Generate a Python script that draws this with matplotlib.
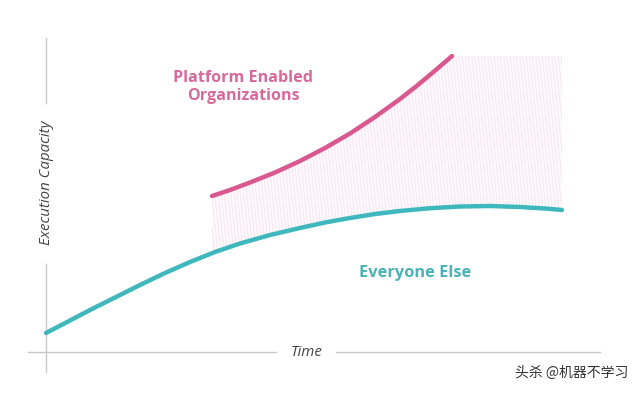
import matplotlib

matplotlib.use("Agg")
import matplotlib.pyplot as plt
import numpy as np
from matplotlib.collections import LineCollection
from matplotlib.patches import Polygon

# Curves (pixel space, y grows downwards)
everyone_x = [46, 70, 90, 115, 140, 165, 190, 215, 240, 270, 300, 325, 350,
              375, 400, 430, 460, 490, 520, 545, 562]
everyone_y = [333, 320.5, 310, 297.5, 285, 273, 262, 252, 243.5, 235, 228,
              222.5, 218, 214, 211, 208.2, 206.5, 206, 207, 208.5, 210]

platform_x = [212, 230, 250, 275, 300, 325, 350, 375, 400, 416, 434, 452]
platform_y = [196, 190, 182.5, 172.5, 161, 148, 133.5, 117, 99, 86.5, 71.5, 56]

# Shaded gap between the two groups (flat top after the pink curve ends)
gap_right = 562
gap_top = 56

TEAL = "#3fb8bd"
PINK = "#d9588f"
PINK_TEXT = "#d66a9c"
TEAL_TEXT = "#49b3b5"
HATCH = "#f7e4f0"
AXIS = "#c9c9c9"
INK = "#444444"

fig = plt.figure(figsize=(6.4, 3.94), dpi=100)
ax = fig.add_axes([0, 0, 1, 1])
ax.set_xlim(0, 640)
ax.set_ylim(394, 0)
ax.axis("off")

# hatched area
top = list(zip(platform_x, platform_y)) + [(gap_right, gap_top)]
bottom = [(x, y) for x, y in zip(everyone_x, everyone_y) if x >= platform_x[0]]
bottom = [(platform_x[0], 253)] + bottom
poly = Polygon(top + bottom[::-1], closed=True, facecolor="#fefafd", edgecolor="none")
ax.add_patch(poly)
xs = np.arange(150, 600, 3.2)
segs = [[(x, 40), (x + 25, 270)] for x in xs]
lc = LineCollection(segs, colors=HATCH, linewidths=0.7, zorder=1)
ax.add_collection(lc)
lc.set_clip_path(poly)

ax.plot(everyone_x, everyone_y, color=TEAL, lw=3.2, solid_capstyle="round",
        solid_joinstyle="round", zorder=3)
ax.plot(platform_x, platform_y, color=PINK, lw=3.2, solid_capstyle="round",
        solid_joinstyle="round", zorder=3)

# axes drawn by hand with gaps for the labels
ax.plot([46, 46], [38, 103], color=AXIS, lw=1)
ax.plot([46, 46], [264, 372], color=AXIS, lw=1)
ax.plot([28, 276], [352, 352], color=AXIS, lw=1)
ax.plot([336, 600], [352, 352], color=AXIS, lw=1)

ax.text(46, 183, "Execution Capacity", rotation=90, ha="center", va="center",
        fontsize=10.8, style="italic", color=INK, family="Open Sans")
ax.text(307, 352, "Time", ha="center", va="center", fontsize=10.8,
        style="italic", color=INK, family="Open Sans")

ax.text(243, 87, "Platform Enabled\nOrganizations", ha="center", va="center",
        fontsize=11.6, fontweight="bold", color=PINK_TEXT, family="Open Sans",
        linespacing=1.2)
ax.text(415, 273, "Everyone Else", ha="center", va="center", fontsize=11.8,
        fontweight="bold", color=TEAL_TEXT, family="Open Sans")

ax.text(628, 373, "头杀 @机器不学习", ha="right", va="center", fontsize=10,
        color="#333333", family=["Noto Sans CJK SC", "DejaVu Sans"])

fig.savefig("out.png", dpi=100, facecolor="white")
